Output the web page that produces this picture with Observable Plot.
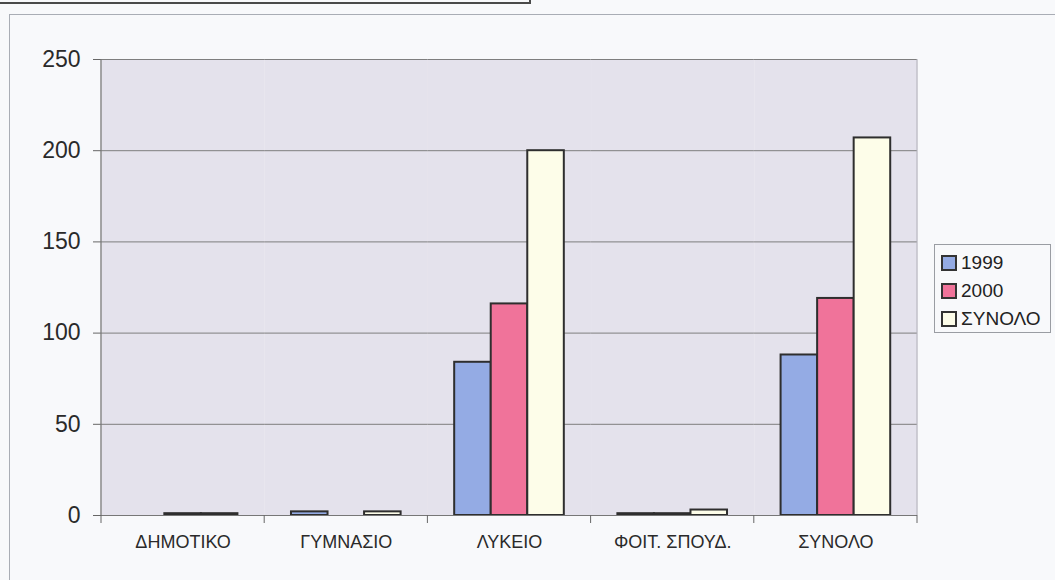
<!DOCTYPE html>
<html>
<head>
<meta charset="utf-8">
<script src="https://cdn.jsdelivr.net/npm/d3@7"></script>
<script src="https://cdn.jsdelivr.net/npm/@observablehq/plot@0.6"></script>
<style>
  html, body { margin: 0; padding: 0; background: #f8f9fb; }
  #wrap { position: relative; width: 1055px; height: 580px; overflow: hidden; background: #f8f9fb; font-family: "Liberation Sans", Arial, sans-serif; }
  #titlebox { position: absolute; left: -3px; top: -20px; width: 530px; height: 20px; border: 2px solid #4a4a4a; background: #f8f9fb; }
  #frame { position: absolute; left: 9px; top: 14px; width: 1100px; height: 620px; border: 1px solid #a9adb5; }
  #legend { position: absolute; left: 934px; top: 244px; width: 117px; height: 89px; border: 1px solid #9a9da3; background: #f8f9fb; box-sizing: border-box; }
  .item { position: absolute; left: 6px; height: 22px; display: flex; align-items: center; font-size: 19px; color: #222; }
  .sw { width: 12px; height: 12px; border: 2px solid #333; margin-right: 4px; }
  #chart { position: absolute; left: 0; top: 0; }
</style>
</head>
<body>
<div id="wrap">
  <div id="frame"></div>
  <div id="titlebox"></div>
  <div id="chart"></div>
  <div id="legend"></div>
</div>
<script>
const categories = ["ΔΗΜΟΤΙΚΟ", "ΓΥΜΝΑΣΙΟ", "ΛΥΚΕΙΟ", "ΦΟΙΤ. ΣΠΟΥΔ.", "ΣΥΝΟΛΟ"];
const seriesNames = ["1999", "2000", "ΣΥΝΟΛΟ"];
const values1999 = [0, 2, 84, 1, 88];
const values2000 = [1, 0, 116, 1, 119];
const valuesTotal = [1, 2, 200, 3, 207];
const seriesColors = ["#94abe4", "#f0739a", "#fdfde9"];
const yTicks = [0, 50, 100, 150, 200, 250];

const seriesValues = [values1999, values2000, valuesTotal];
const rows = [];
categories.forEach((c, i) => {
  seriesNames.forEach((s, j) => rows.push({category: c, series: s, value: seriesValues[j][i]}));
});

const W = 1055, H = 580, mL = 101, mR = 138, mT = 59, mB = 65;

const plot = Plot.plot({
  width: W, height: H,
  marginLeft: mL, marginRight: mR, marginTop: mT, marginBottom: mB,
  style: {background: "transparent", fontFamily: "'Liberation Sans', Arial, sans-serif", color: "#2a2a2a"},
  fx: {domain: categories, padding: 0, round: false},
  x: {domain: seriesNames, paddingInner: 0, paddingOuter: 0.733, round: false, axis: null},
  y: {domain: [0, 250]},
  color: {domain: seriesNames, range: seriesColors},
  marks: [
    Plot.frame({fill: "#e4e2ec", stroke: null}),
    Plot.gridY(yTicks, {stroke: "#7e7e7e", strokeOpacity: 1, strokeWidth: 1}),
    Plot.axisY(yTicks, {tickSize: 8, tickPadding: 13, fontSize: 23, stroke: "#666", label: null}),
    Plot.axisFx({anchor: "bottom", tickSize: 0, tickPadding: 20, fontSize: 18, label: null}),
    Plot.barY(rows, {fx: "category", x: "series", y: "value", fill: "series", stroke: "#2e2e2e", strokeWidth: 2}),
    Plot.ruleY([0], {stroke: "#777", strokeWidth: 1.2})
  ]
});

document.getElementById("chart").appendChild(plot);

// band-boundary ticks and plot edge lines, placed through Plot's own scales
const fx = plot.scale("fx");
const yS = plot.scale("y");
const y0 = yS.apply(0), yTop = yS.apply(250);
const bounds = categories.map(c => fx.apply(c));
bounds.push(fx.apply(categories[categories.length - 1]) + fx.bandwidth);
const svg = d3.select(plot);
svg.append("g").selectAll("line").data(bounds).join("line")
  .attr("x1", d => d).attr("x2", d => d)
  .attr("y1", y0).attr("y2", y0 + 8)
  .attr("stroke", "#666").attr("stroke-width", 1);
svg.append("line").attr("x1", bounds[0]).attr("x2", bounds[0]).attr("y1", yTop).attr("y2", y0)
  .attr("stroke", "#777").attr("stroke-width", 1.3);
svg.append("line").attr("x1", bounds[bounds.length-1]).attr("x2", bounds[bounds.length-1]).attr("y1", yTop).attr("y2", y0)
  .attr("stroke", "#b0b0b8").attr("stroke-width", 1);

// legend
const legend = document.getElementById("legend");
seriesNames.forEach((s, i) => {
  const it = document.createElement("div");
  it.className = "item";
  it.style.top = (7 + i * 28) + "px";
  const sw = document.createElement("div");
  sw.className = "sw";
  sw.style.background = seriesColors[i];
  it.appendChild(sw);
  it.appendChild(document.createTextNode(s));
  legend.appendChild(it);
});
</script>
</body>
</html>
